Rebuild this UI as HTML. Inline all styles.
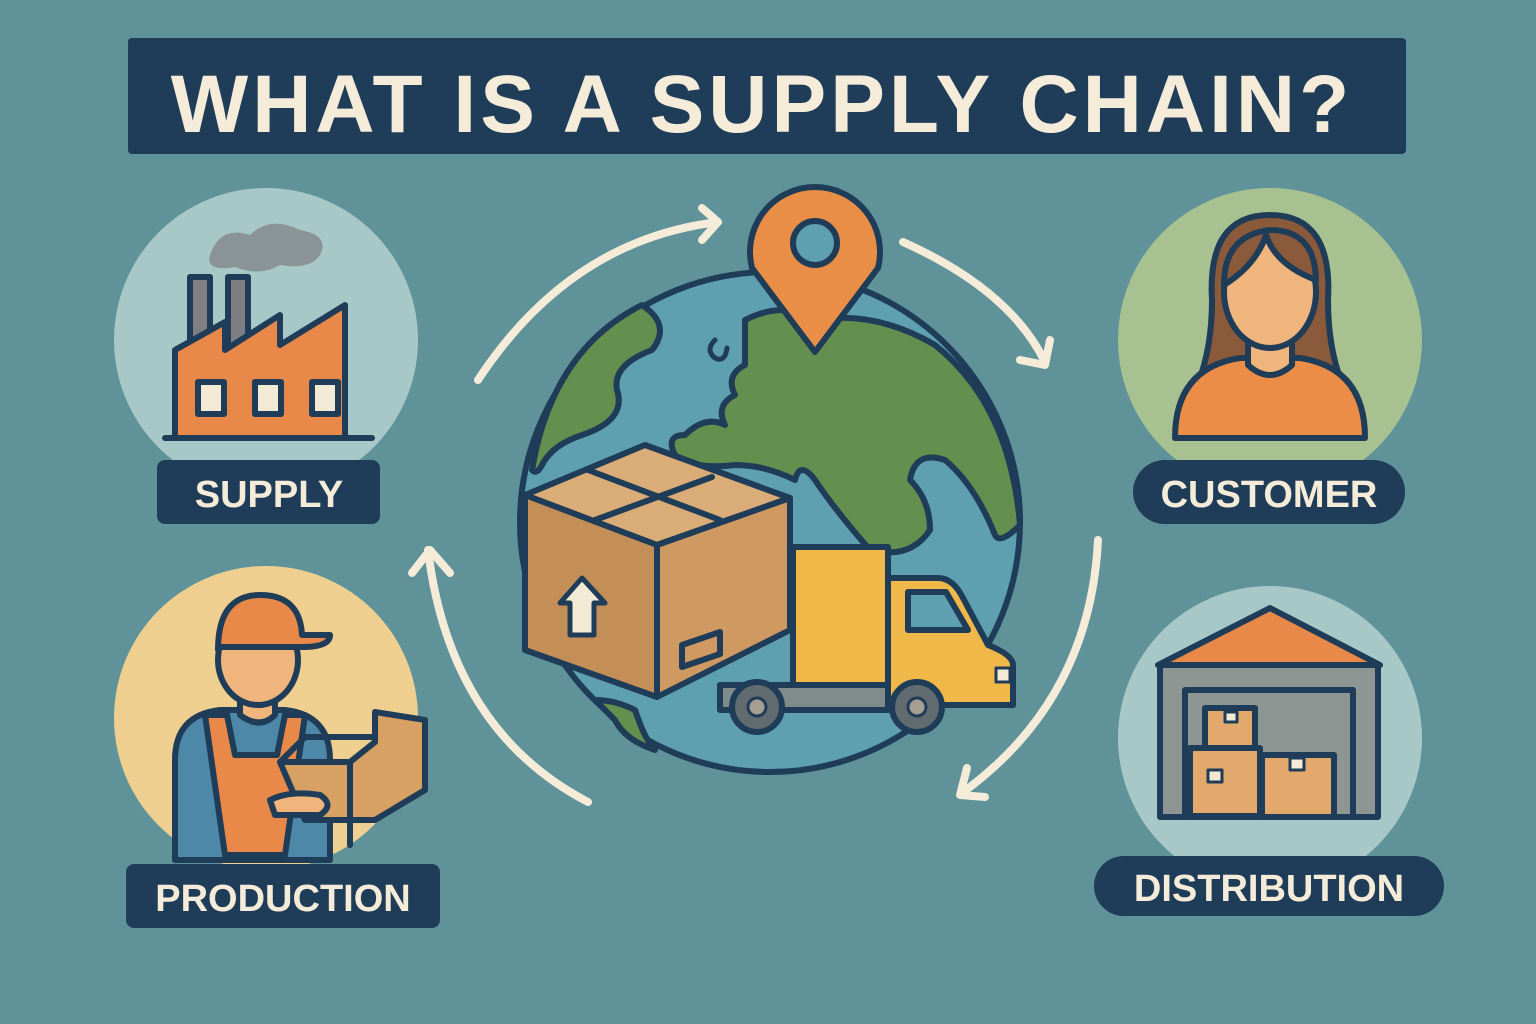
<!DOCTYPE html>
<html><head><meta charset="utf-8"><style>
html,body{margin:0;padding:0;background:#5f9299;}
svg{display:block}
text{font-family:"Liberation Sans",sans-serif;font-weight:bold;fill:#f4ecd8}
</style></head><body>
<svg width="1536" height="1024" viewBox="0 0 1536 1024" xmlns="http://www.w3.org/2000/svg">
<rect width="1536" height="1024" fill="#5f9299"/>
<rect x="128" y="38" width="1278" height="116" rx="4" fill="#1f3d58"/>
<text x="762" y="132" font-size="82" text-anchor="middle" letter-spacing="4">WHAT IS A SUPPLY CHAIN?</text>

<g stroke="#1f3d58" stroke-width="6" stroke-linejoin="round" stroke-linecap="round">
<circle cx="266" cy="340" r="152" fill="#a8c8c8" stroke="none"/>
<circle cx="1270" cy="340" r="152" fill="#a7c190" stroke="none"/>
<circle cx="266" cy="718" r="152" fill="#efcf90" stroke="none"/>
<circle cx="1270" cy="738" r="152" fill="#a8c8c8" stroke="none"/>

<path d="M210 255 q10-30 40-20 q20-20 50-5 q30 5 20 25 q-10 15-40 10 q-20 12-45 2 q-30 5-25-12z" fill="#8a9497" stroke="none"/>
<rect x="190" y="277" width="20" height="70" fill="#7d7f83"/>
<rect x="228" y="277" width="20" height="70" fill="#7d7f83"/>
<path d="M175 438 V350 L225 322 V350 L280 315 V345 L345 305 V438 Z" fill="#e8894a"/>
<rect x="198" y="382" width="26" height="32" fill="#f3ead6"/>
<rect x="255" y="382" width="26" height="32" fill="#f3ead6"/>
<rect x="312" y="382" width="26" height="32" fill="#f3ead6"/>
<line x1="165" y1="438" x2="372" y2="438"/>

<!-- customer -->
<path d="M1212 300 q-5-85 58-85 q63 0 58 85 q0 60 22 100 h-160 q22-40 22-100z" fill="#8a5a3b"/>
<path d="M1175 438 q0-70 65-80 h60 q65 10 65 80z" fill="#ec8d47"/>
<path d="M1248 330 v35 q22 20 44 0 v-35z" fill="#f0b57d"/>
<ellipse cx="1270" cy="292" rx="46" ry="56" fill="#f0b57d"/>
<path d="M1224 285 q0-50 46-55 q45 0 46 50 q-40-15-50-45 q-10 30-42 50z" fill="#8a5a3b"/>

<!-- worker -->
<path d="M175 860 v-100 q0-45 45-50 h65 q45 5 45 50 v100z" fill="#4d88a8"/>
<path d="M205 715 l20 140 h60 l20-140 h-20 l-8 40 h-42 l-8-40z" fill="#e8894a"/>
<path d="M240 690 v25 q20 15 35 0 v-25z" fill="#f0b57d"/>
<ellipse cx="258" cy="660" rx="40" ry="45" fill="#f0b57d"/>
<path d="M218 650 q0-55 42-55 q40 0 42 40 h28 q0 12-28 12 h-84z" fill="#e8894a"/>
<path d="M280 762 h70 l25-20 v-30 l50 8 v70 l-50 30 h-70 z" fill="#d6a163"/>
<path d="M280 762 l25-25 h70" fill="none"/>
<line x1="350" y1="762" x2="350" y2="845"/>
<path d="M270 800 q20-10 50-5 q15 10 0 20 h-45z" fill="#f0b57d"/>

<path d="M1158 665 L1270 608 L1380 665 Z" fill="#e8894a"/>
<rect x="1160" y="665" width="218" height="152" fill="#8e9693"/>
<rect x="1185" y="690" width="168" height="127" fill="#8e9693"/>
<rect x="1205" y="708" width="50" height="40" fill="#e3a86b"/>
<rect x="1190" y="748" width="70" height="68" fill="#e3a86b"/>
<rect x="1262" y="755" width="72" height="62" fill="#e3a86b"/>
<rect x="1225" y="712" width="12" height="10" fill="#f3ead6" stroke-width="3"/>
<rect x="1208" y="770" width="14" height="12" fill="#f3ead6" stroke-width="3"/>
<rect x="1290" y="758" width="14" height="12" fill="#f3ead6" stroke-width="3"/>

<!-- globe -->
<circle cx="770" cy="522" r="250" fill="#5e9fb0"/>
<path d="M532 470 q20-120 110-165 q30 20 10 45 q-40 15-35 40 q10 30-35 45 q-30 10-40 30 q-5 10-10 5z" fill="#658f4f"/>
<path d="M745 320 q40-20 70 0 q60-10 120 25 q75 60 85 180 q-20 20-25 10 q-20-50-50-75 q-30-10-35 20 q20 20 20 50 q-20 30-60 20 q-35-40-55-70 q-15-20-20 0 q-30-15-60-15 q-40 5-60-10 q-10-20 10-20 q20-20 40-10 q-10-20 10-30 q-10-20 10-30z" fill="#658f4f"/>
<path d="M715 340 q-10 10 0 18 q10 5 12-10" fill="none" stroke-width="5"/>
<path d="M595 700 q20 0 40 10 q10 30 20 40 q-30-10-40-30z" fill="#658f4f"/>
<path d="M815 352 L752 268 A65 65 0 1 1 878 268 Z" fill="#e88e46"/>
<circle cx="815" cy="243" r="22" fill="#5e9fb0"/>

<path d="M525 495 L645 445 L790 498 L657 545 Z" fill="#d9ac78"/>
<path d="M525 495 L657 545 V697 L525 650 Z" fill="#c48e57"/>
<path d="M657 545 L790 498 V630 L657 697 Z" fill="#cf9a62"/>
<path d="M588 470 L720 520 M595 520 L712 477" fill="none"/>
<path d="M560 603 l22-25 l23 25 h-11 v32 h-24 v-32z" fill="#f3ead6" stroke-width="5"/>
<path d="M682 645 l38-13 v22 l-38 13z" fill="none"/>

<rect x="793" y="547" width="95" height="138" fill="#f0b849"/>
<path d="M888 578 h50 q15 0 25 20 l25 47 q25 10 25 20 v40 h-125z" fill="#f0b849"/>
<path d="M908 592 h38 l22 38 h-60z" fill="#5e9fb0"/>
<rect x="720" y="685" width="168" height="25" fill="#7f8c89"/>
<path d="M720 685 h73 M888 705 h125"/>
<rect x="996" y="668" width="14" height="14" fill="#f3ead6" stroke-width="3"/>
<circle cx="757" cy="707" r="25" fill="#616b70"/>
<circle cx="757" cy="707" r="9" fill="#a89f94" stroke-width="3"/>
<circle cx="917" cy="707" r="25" fill="#616b70"/>
<circle cx="917" cy="707" r="9" fill="#a89f94" stroke-width="3"/>
</g>

<g fill="none" stroke="#f4ecd8" stroke-width="8" stroke-linecap="round" stroke-linejoin="round">
<path d="M478 380 Q570 240 718 222"/><path d="M702 208 L718 222 L702 240"/>
<path d="M903 242 Q1010 290 1045 362"/><path d="M1020 360 L1045 365 L1050 340"/>
<path d="M1098 540 Q1090 700 962 793"/><path d="M967 768 L960 795 L985 797"/>
<path d="M588 802 Q450 730 428 550"/><path d="M412 573 L430 550 L450 573"/>
</g>

<g fill="#1f3d58">
<rect x="157" y="460" width="223" height="64" rx="8"/>
<rect x="1133" y="460" width="272" height="64" rx="32"/>
<rect x="126" y="864" width="314" height="64" rx="8"/>
<rect x="1094" y="856" width="350" height="60" rx="30"/>
</g>
<text x="269" y="507" font-size="38" text-anchor="middle">SUPPLY</text>
<text x="1269" y="507" font-size="38" text-anchor="middle">CUSTOMER</text>
<text x="283" y="911" font-size="38" text-anchor="middle">PRODUCTION</text>
<text x="1269" y="901" font-size="38" text-anchor="middle">DISTRIBUTION</text>
</svg>
</body></html>
